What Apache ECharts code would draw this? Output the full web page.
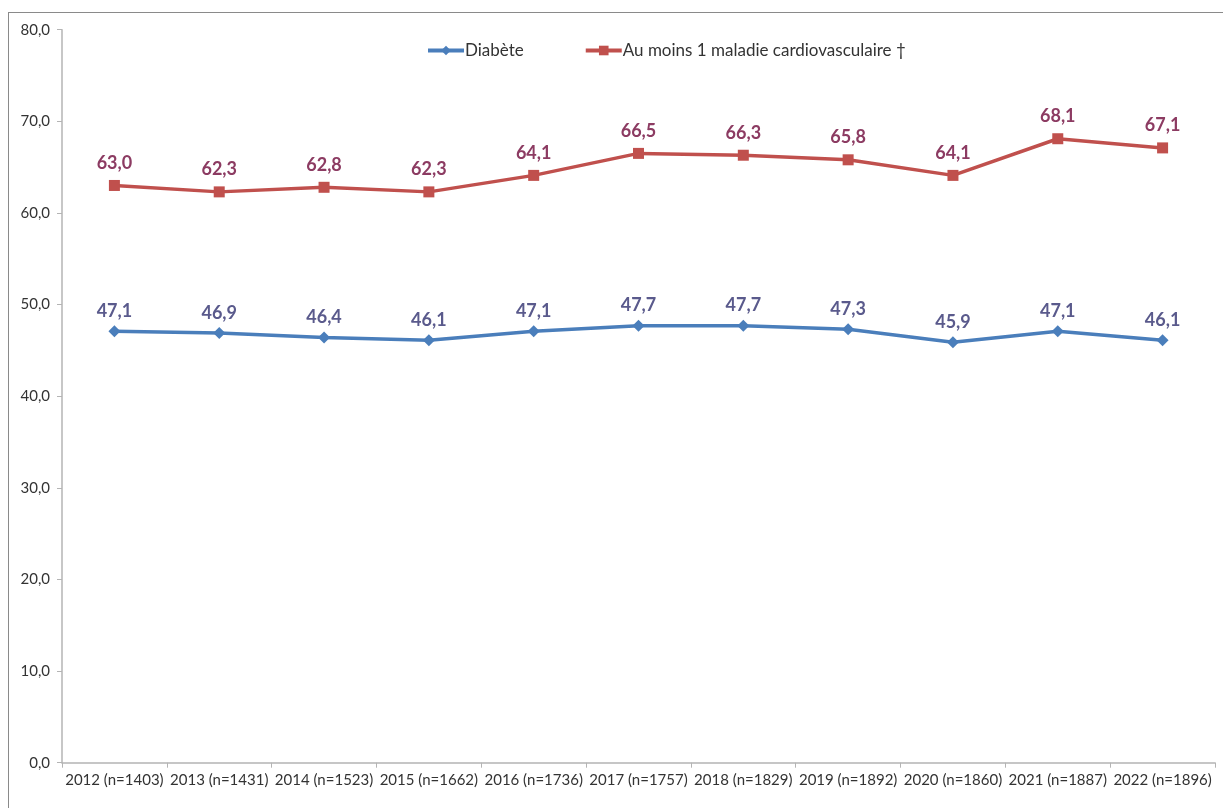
<!DOCTYPE html>
<html>
<head>
<meta charset="utf-8">
<script src="https://cdn.jsdelivr.net/npm/echarts@6/dist/echarts.min.js"></script>
<style>
  html, body { margin: 0; padding: 0; background: #fff; }
  #frame { position: absolute; left: 8px; top: 12px; width: 1400px; height: 1000px; border: 1px solid #8a8a8a; box-sizing: border-box; }
  #chart { position: absolute; left: 0; top: 0; width: 1223px; height: 808px; }
</style>
</head>
<body>
<div id="frame"></div>
<div id="chart"></div>
<script>
// Survey years with sample sizes
const categories = [
  '2012 (n=1403)', '2013 (n=1431)', '2014 (n=1523)', '2015 (n=1662)',
  '2016 (n=1736)', '2017 (n=1757)', '2018 (n=1829)', '2019 (n=1892)',
  '2020 (n=1860)', '2021 (n=1887)', '2022 (n=1896)'
];
// Percentages per year
const diabete = [47.1, 46.9, 46.4, 46.1, 47.1, 47.7, 47.7, 47.3, 45.9, 47.1, 46.1];
const cardio = [63.0, 62.3, 62.8, 62.3, 64.1, 66.5, 66.3, 65.8, 64.1, 68.1, 67.1];
const seriesNames = ['Diabète', 'Au moins 1 maladie cardiovasculaire \u2020'];

const fmt = v => v.toFixed(1).replace('.', ',');
const font = 'Lato, "Open Sans", sans-serif';

const chart = echarts.init(document.getElementById('chart'), null, { renderer: 'canvas' });
chart.setOption({
  animation: false,
  backgroundColor: 'transparent',
  textStyle: { fontFamily: font },
  legend: {
    top: 37,
    left: 421,
    itemGap: 60,
    itemWidth: 36,
    itemHeight: 12,
    lineStyle: { width: 4 },
    textStyle: { fontFamily: font, fontSize: 17, color: '#333', padding: [0, 0, 0, -4] },
    data: seriesNames
  },
  grid: { left: 62, right: 8, top: 29.7, bottom: 45.3, containLabel: false },
  xAxis: {
    type: 'category',
    data: categories,
    boundaryGap: true,
    axisLine: { lineStyle: { color: '#b4b4b4', width: 1.5 } },
    axisTick: { show: true, length: 5, lineStyle: { color: '#b4b4b4' } },
    axisLabel: { interval: 0, fontFamily: font, fontSize: 15, color: '#333', margin: 10 }
  },
  yAxis: {
    type: 'value',
    min: 0,
    max: 80,
    interval: 10,
    axisLine: { show: true, lineStyle: { color: '#b4b4b4', width: 1.5 } },
    axisTick: { show: true, length: 5, lineStyle: { color: '#b4b4b4' } },
    splitLine: { show: false },
    axisLabel: { fontFamily: font, fontSize: 15, color: '#333', margin: 12, formatter: v => fmt(v) }
  },
  series: [
    {
      name: seriesNames[0],
      type: 'line',
      data: diabete,
      symbol: 'diamond',
      symbolSize: 12,
      itemStyle: { color: '#4a7ebb' },
      lineStyle: { color: '#4a7ebb', width: 3.5 },
      label: {
        show: true, position: 'top', distance: 5,
        formatter: p => fmt(p.value),
        fontFamily: font, fontSize: 18, fontWeight: 'bold', color: '#5a5a8c'
      }
    },
    {
      name: seriesNames[1],
      type: 'line',
      data: cardio,
      symbol: 'rect',
      symbolSize: 11,
      itemStyle: { color: '#c0504d' },
      lineStyle: { color: '#c0504d', width: 3.5 },
      label: {
        show: true, position: 'top', distance: 8,
        formatter: p => fmt(p.value),
        fontFamily: font, fontSize: 18, fontWeight: 'bold', color: '#8c3b62'
      }
    }
  ]
});
</script>
</body>
</html>
